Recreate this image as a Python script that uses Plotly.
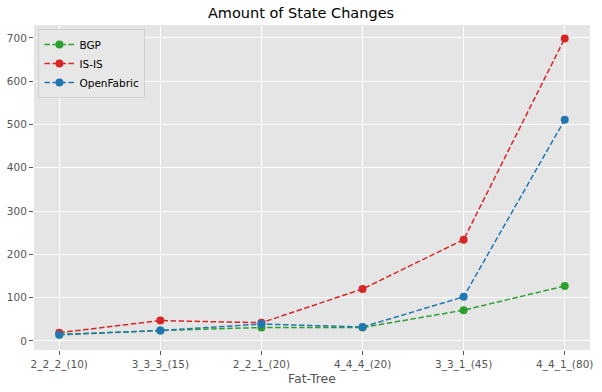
import plotly.graph_objects as go

categories = ["2_2_2_(10)", "3_3_3_(15)", "2_2_1_(20)", "4_4_4_(20)", "3_3_1_(45)", "4_4_1_(80)"]
bgp = [15, 24, 31, 31, 71, 127]
isis = [19, 47, 42, 120, 234, 699]
openfabric = [14, 24, 39, 32, 102, 511]

series = [("BGP", bgp, "#2ca02c"), ("IS-IS", isis, "#d62728"), ("OpenFabric", openfabric, "#1f77b4")]

fig = go.Figure()
x = list(range(len(categories)))
for name, vals, col in series:
    fig.add_trace(go.Scatter(
        x=x, y=vals, name=name, mode="lines+markers",
        line=dict(color=col, width=1.5, dash="5.5px,2.5px"),
        marker=dict(color=col, size=8),
    ))

fig.update_layout(
    width=602, height=392,
    margin=dict(l=34, r=12, t=25, b=42, autoexpand=False),
    paper_bgcolor="white", plot_bgcolor="#E5E5E5",
    font=dict(family="DejaVu Sans", size=10, color="#555555"),
    title=dict(text="Amount of State Changes", x=0.5, xanchor="center", y=0.968, yanchor="middle",
               font=dict(size=14.5, color="black")),
    showlegend=True,
    legend=dict(x=0.008, y=0.988, xanchor="left", yanchor="top",
                bgcolor="rgba(232,232,232,0.85)", bordercolor="#D0D0D0", borderwidth=1,
                font=dict(size=10.5, color="black"), tracegroupgap=0, itemwidth=30),
)
fig.update_xaxes(
    tickmode="array", tickvals=x, ticktext=categories, automargin=False,
    range=[-0.25, 5.25], showgrid=True, gridcolor="white", gridwidth=1,
    zeroline=False, ticks="outside", ticklen=4, tickcolor="#555555",
    title=dict(text="Fat-Tree", font=dict(size=12.5, color="#555555"), standoff=3),
    tickfont=dict(size=10.5, color="#555555"),
)
fig.update_yaxes(
    range=[-21, 730], tickvals=[0, 100, 200, 300, 400, 500, 600, 700], automargin=False,
    showgrid=True, gridcolor="white", gridwidth=1, zeroline=False,
    ticks="outside", ticklen=4, tickcolor="#555555",
    tickfont=dict(size=10.5, color="#555555"),
)

fig.write_html("out.html", config={"displayModeBar": False},
               post_script="document.body.style.margin='0';document.body.style.overflow='hidden';")
